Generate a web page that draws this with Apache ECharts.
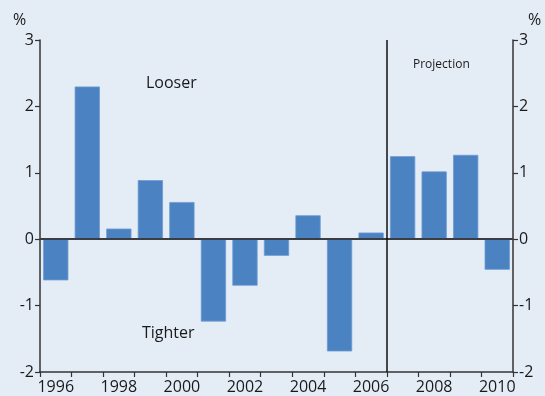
<!DOCTYPE html>
<html>
<head>
<meta charset="utf-8">
<script src="https://cdn.jsdelivr.net/npm/echarts@6/dist/echarts.min.js"></script>
<style>
  html, body { margin: 0; padding: 0; background: #e4ecf6; }
  #chart { width: 545px; height: 396px; }
</style>
</head>
<body>
<div id="chart"></div>
<script>
// Fiscal impulse by year, per cent (positive = looser, negative = tighter)
const years = ['1996', '1997', '1998', '1999', '2000', '2001', '2002', '2003',
               '2004', '2005', '2006', '2007', '2008', '2009', '2010'];
const impulse = [-0.62, 2.30, 0.16, 0.89, 0.56, -1.24, -0.70, -0.25,
                 0.36, -1.69, 0.10, 1.25, 1.02, 1.27, -0.46];
// Projections start after this many years of outturns
const outturnCount = 11;
const yTicks = { min: -2, max: 3, interval: 1 };

const FONT = '"Open Sans", "Noto Sans", sans-serif';
const TEXT = '#1a1a1a';
const AXIS = '#333333';

const chart = echarts.init(document.getElementById('chart'));

const yAxisCommon = {
  type: 'value',
  min: yTicks.min,
  max: yTicks.max,
  interval: yTicks.interval,
  axisLine: { show: true, lineStyle: { color: AXIS, width: 1.5 } },
  axisTick: { show: true, inside: false, length: 5, lineStyle: { color: AXIS, width: 1.2 } },
  splitLine: { show: false },
  axisLabel: { color: TEXT, fontSize: 16, fontFamily: FONT, margin: 6 }
};

chart.setOption({
  backgroundColor: '#e4ecf6',
  animation: false,
  grid: { left: 40, right: 32, top: 40, bottom: 24, containLabel: false },
  xAxis: [
    {
      type: 'category',
      data: years,
      position: 'bottom',
      axisLine: { show: true, lineStyle: { color: AXIS, width: 1.5 }, onZero: false },
      axisTick: { show: true, alignWithLabel: false, interval: 0, length: 5,
                  lineStyle: { color: AXIS, width: 1.2 } },
      axisLabel: { color: TEXT, fontSize: 16, fontFamily: FONT, margin: 7, interval: 1 },
      splitLine: { show: false }
    },
    {
      // positional helper for the projection divider
      type: 'value',
      min: 0,
      max: years.length,
      show: false
    }
  ],
  yAxis: [
    Object.assign({ position: 'left' }, yAxisCommon),
    Object.assign({ position: 'right' }, yAxisCommon)
  ],
  series: [
    {
      type: 'bar',
      data: impulse,
      xAxisIndex: 0,
      yAxisIndex: 0,
      barCategoryGap: '20%',
      itemStyle: { color: '#4a82c2', borderColor: '#6f9bd3', borderWidth: 0.8 },
      markLine: {
        silent: true,
        symbol: 'none',
        label: { show: false },
        lineStyle: { color: '#3a3d44', width: 2, type: 'solid' },
        data: [{ yAxis: 0 }],
        z: 5
      }
    },
    {
      type: 'line',
      xAxisIndex: 1,
      yAxisIndex: 0,
      data: [],
      markLine: {
        silent: true,
        symbol: 'none',
        label: { show: false },
        lineStyle: { color: '#111111', width: 1.5, type: 'solid' },
        data: [{ xAxis: outturnCount }]
      }
    }
  ],
  graphic: [
    { type: 'text', left: 13, top: 12,
      style: { text: '%', fill: TEXT, fontSize: 16, fontFamily: FONT } },
    { type: 'text', left: 528, top: 12,
      style: { text: '%', fill: TEXT, fontSize: 16, fontFamily: FONT } },
    { type: 'text', left: 146, top: 75,
      style: { text: 'Looser', fill: TEXT, fontSize: 16, fontFamily: FONT } },
    { type: 'text', left: 142, top: 325,
      style: { text: 'Tighter', fill: TEXT, fontSize: 16, fontFamily: FONT } },
    { type: 'text', left: 413, top: 59,
      style: { text: 'Projection', fill: TEXT, fontSize: 12, fontFamily: FONT } }
  ]
});
</script>
</body>
</html>
